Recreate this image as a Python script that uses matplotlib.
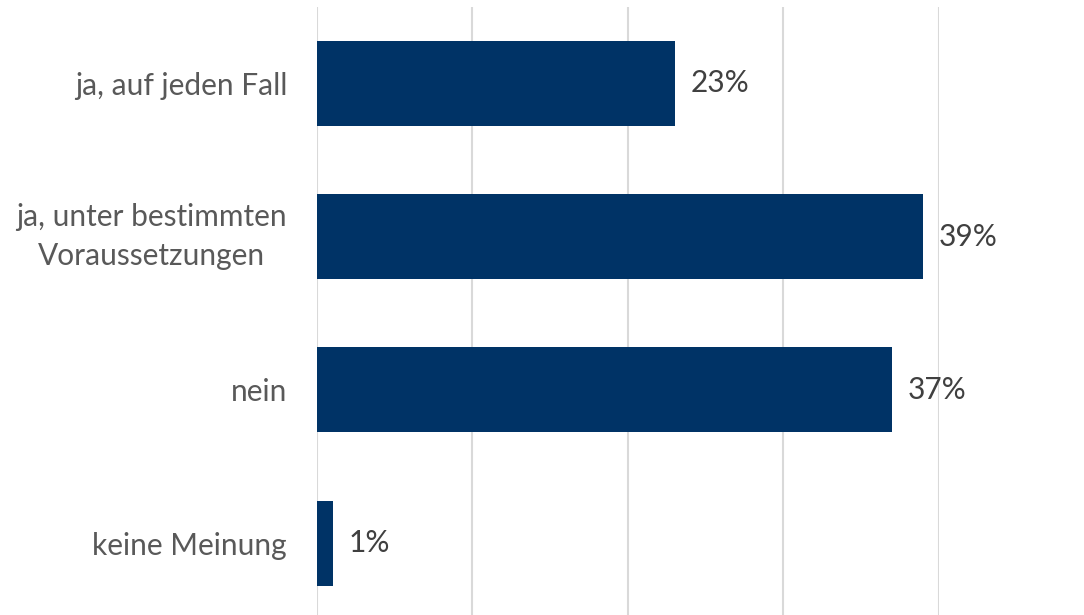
import matplotlib.pyplot as plt

# --- data ---
categories = ["ja, auf jeden Fall", "ja, unter bestimmten\nVoraussetzungen", "nein", "keine Meinung"]
values = [23, 39, 37, 1]
value_labels = ["23%", "39%", "37%", "1%"]

plt.rcParams['font.family'] = ['Lato', 'DejaVu Sans']

fig = plt.figure(figsize=(10.84, 6.15), dpi=100)
ax = fig.add_axes([0.2924, -0.0075, 0.5738, 0.9963])

ypos = list(range(len(categories)))
ax.barh(ypos, values, height=0.555, color="#003366", zorder=3)
for y, v, lab in zip(ypos, values, value_labels):
    ax.text(v + 1.0, y, lab, va="center", ha="left", fontsize=21.5, color="#404040")

ax.set_xlim(0, 40)
ax.set_ylim(3.5, -0.5)
ax.set_xticks([0, 10, 20, 30, 40])
ax.xaxis.grid(True, color="#d9d9d9", linewidth=1.5, zorder=0)
ax.tick_params(axis="x", length=0, labelbottom=False)
ax.tick_params(axis="y", length=0, pad=21.5)
ax.set_yticks(ypos)
ax.set_yticklabels(categories, fontsize=21.5, color="#595959",
                   multialignment="center", linespacing=1.5)
for t in ax.get_yticklabels():
    if "\n" in t.get_text():
        t.set_va("center")
for s in ax.spines.values():
    s.set_visible(False)

fig.savefig("out.png", dpi=100)
